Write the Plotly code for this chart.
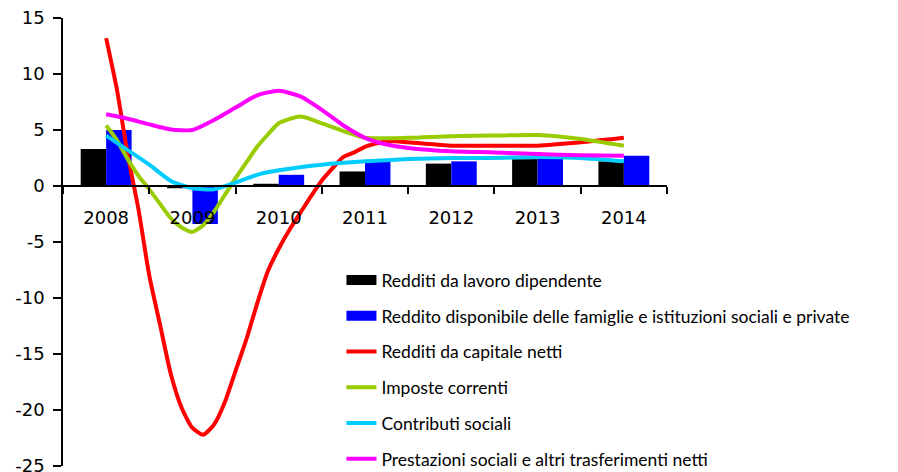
import plotly.graph_objects as go

years = ["2008", "2009", "2010", "2011", "2012", "2013", "2014"]
year_pos = [0, 1, 2, 3, 4, 5, 6]

lavoro = [3.3, -0.2, 0.2, 1.3, 2.0, 2.4, 2.2]
disponibile = [5.0, -3.4, 1.0, 2.2, 2.2, 2.6, 2.7]

capitale_x = [0, 0.125, 0.25, 0.375, 0.5, 0.625, 0.75, 0.875, 1.0, 1.125, 1.25, 1.375,
              1.5, 1.625, 1.75, 1.875, 2.0, 2.125, 2.25, 2.375, 2.5, 2.625, 2.75, 2.875,
              3.0, 3.25, 3.5, 4.0, 4.5, 5.0, 5.5, 6.0]
capitale = [13.2, 8.6, 2.8, -2.1, -8.0, -12.4, -16.8, -19.8, -21.6, -22.2, -21.3, -19.3,
            -16.5, -13.7, -10.5, -7.6, -5.6, -3.9, -2.4, -0.9, 0.5, 1.6, 2.6, 3.0,
            3.5, 4.0, 3.9, 3.6, 3.6, 3.6, 3.9, 4.3]

imposte_x = [0, 0.125, 0.25, 0.375, 0.5, 0.625, 0.75, 0.875, 1.0, 1.125, 1.25, 1.375,
             1.5, 1.625, 1.75, 1.875, 2.0, 2.25, 2.5, 2.75, 3.0, 3.5, 4.0, 4.5, 5.0, 5.5, 6.0]
imposte = [5.4, 4.1, 2.4, 0.9, -0.3, -1.6, -2.9, -3.7, -4.1, -3.5, -2.3, -0.8,
           0.7, 2.1, 3.5, 4.6, 5.6, 6.2, 5.6, 4.9, 4.3, 4.3, 4.45, 4.5, 4.55, 4.2, 3.6]

contributi_x = [0, 0.25, 0.5, 0.75, 1.0, 1.25, 1.5, 1.75, 2.0, 2.5, 3.0, 3.5, 4.0, 4.5, 5.0, 5.5, 6.0]
contributi = [4.5, 3.2, 1.9, 0.45, -0.2, -0.3, 0.3, 1.0, 1.4, 1.9, 2.2, 2.4, 2.5, 2.5, 2.6, 2.5, 2.2]

prestazioni_x = [0, 0.25, 0.5, 0.75, 1.0, 1.25, 1.5, 1.75, 2.0, 2.25, 2.5, 2.75, 3.0, 3.25,
                 3.5, 4.0, 4.5, 5.0, 5.5, 6.0]
prestazioni = [6.4, 6.0, 5.5, 5.05, 5.0, 5.9, 7.0, 8.1, 8.5, 8.0, 6.8, 5.4, 4.3, 3.7,
               3.4, 3.1, 3.0, 2.85, 2.75, 2.7]

boundaries = [-0.5, 0.5, 1.5, 2.5, 3.5, 4.5, 5.5, 6.5]
y_ticks = [-25, -20, -15, -10, -5, 0, 5, 10, 15]
y_ticktext = ["-25", "-20", "-15", "-10", "-5", "0", "5", "10", "15"]

names = [
    "Redditi da lavoro dipendente",
    "Reddito disponibile delle famiglie e istituzioni sociali e private",
    "Redditi da capitale netti",
    "Imposte correnti",
    "Contributi sociali",
    "Prestazioni sociali e altri trasferimenti netti",
]
c_black, c_blue, c_red, c_green, c_cyan, c_mag = "#000000", "#0000FF", "#FF0000", "#99CC00", "#00CCFF", "#FF00FF"

fig = go.Figure()
fig.add_trace(go.Bar(x=year_pos, y=lavoro, marker_color=c_black, marker_line_width=0,
                     name=names[0], showlegend=False, offsetgroup="a"))
fig.add_trace(go.Bar(x=year_pos, y=disponibile, marker_color=c_blue, marker_line_width=0,
                     name=names[1], showlegend=False, offsetgroup="b"))

line_series = [
    (capitale_x, capitale, c_red, names[2]),
    (imposte_x, imposte, c_green, names[3]),
    (contributi_x, contributi, c_cyan, names[4]),
    (prestazioni_x, prestazioni, c_mag, names[5]),
]
for xs, ys, col, nm in line_series:
    fig.add_trace(go.Scatter(x=xs, y=ys, mode="lines", name=nm, showlegend=False,
                             line=dict(color=col, width=4, shape="spline", smoothing=0.6)))

# legend entries
legend_items = [(names[0], c_black, 10), (names[1], c_blue, 10), (names[2], c_red, 4),
                (names[3], c_green, 4), (names[4], c_cyan, 4), (names[5], c_mag, 4)]
for i, (nm, col, w) in enumerate(legend_items):
    fig.add_trace(go.Scatter(x=[None], y=[None], mode="lines", name=nm, legendgroup=f"g{i}",
                             line=dict(color=col, width=w)))

fig.update_layout(
    width=898, height=472,
    margin=dict(l=55, r=239, t=10, b=14, autoexpand=False),
    paper_bgcolor="white", plot_bgcolor="white",
    barmode="group", bargap=0.41, bargroupgap=0,
    font=dict(family="DejaVu Sans", size=18, color="black"),
    legend=dict(x=0.461, y=0.455, xanchor="left", yanchor="top",
                font=dict(family="Lato", size=17.5, color="black"),
                tracegroupgap=10, bgcolor="rgba(0,0,0,0)", traceorder="grouped"),
)
fig.update_xaxes(
    range=[-0.5, 6.5], tickvals=year_pos, ticktext=years, ticks="",
    showgrid=False, zeroline=False, showline=True, linecolor="black", linewidth=1.5,
    anchor="free", position=0.625, ticklabelstandoff=16, automargin=False,
    minor=dict(tickmode="array", tickvals=boundaries, ticks="outside", ticklen=7,
               tickcolor="black", tickwidth=1.5, showgrid=False),
)
fig.update_yaxes(
    range=[-25, 15], tickvals=y_ticks, ticktext=y_ticktext,
    ticks="outside", ticklen=8, tickwidth=1.5, tickcolor="black", automargin=False,
    showgrid=False, zeroline=False, showline=True, linecolor="black", linewidth=1.5,
    ticklabelstandoff=5, ticklabeloverflow="allow",
)

fig.write_html("out.html")
